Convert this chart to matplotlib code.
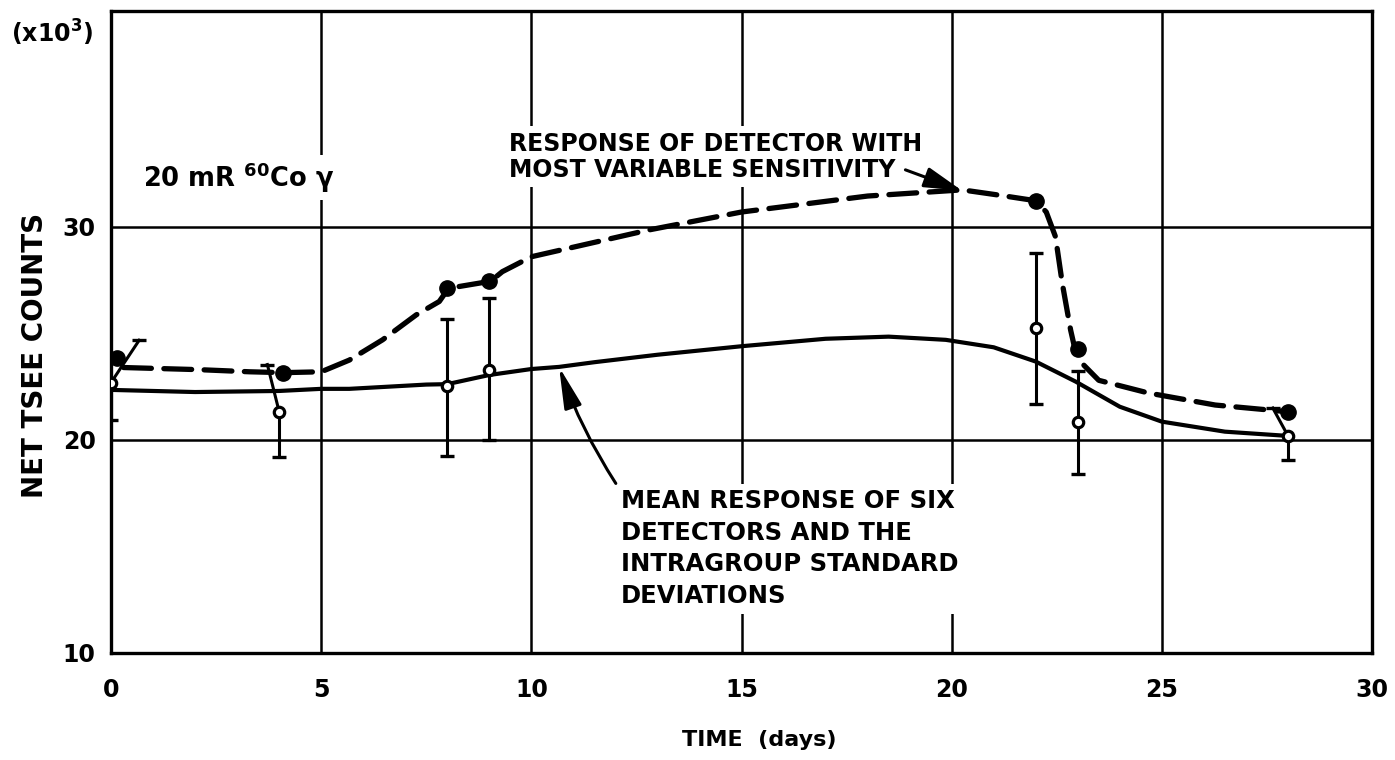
import matplotlib
matplotlib.use("Agg")
import matplotlib.pyplot as plt

plt.rcParams['font.family'] = ['DejaVu Sans']
plt.rcParams['font.weight'] = 'bold'
plt.rcParams['lines.scale_dashes'] = False

# ---- data ----
days = [0, 4, 8, 9, 22, 23, 28]
mean_counts = [22.69, 21.33, 22.55, 23.27, 25.24, 20.85, 20.20]
sd_low = [20.94, 19.20, 19.25, 20.00, 21.70, 18.40, 19.08]
sd_high = [24.68, 23.54, 25.70, 26.65, 28.77, 23.22, 21.50]
var_days = [0.15, 4.1, 8, 9, 22, 23, 28]
var_counts = [23.87, 23.16, 27.12, 27.45, 31.23, 24.29, 21.33]

# hand-drawn curves, traced
mean_curve_x = [0, 2, 4, 5, 5.67, 7.5, 8, 9, 10, 10.66, 11.5, 13, 15, 17, 18.5,
                19.86, 21, 22, 22.95, 24, 25, 26.5, 28]
mean_curve_y = [22.35, 22.25, 22.3, 22.4, 22.4, 22.6, 22.62, 23.05, 23.33, 23.43,
                23.65, 24.0, 24.4, 24.75, 24.85, 24.7, 24.35, 23.68, 22.74,
                21.56, 20.86, 20.39, 20.19]
var_curve_x = [0.3, 2.1, 3.3, 4.1, 5, 5.67, 6.46, 7.26, 7.81, 8.03, 9.03, 9.31,
               10, 12.8, 15, 18, 20.25, 21.1, 22, 22.25, 22.47, 22.63, 22.83,
               22.93, 23.1, 23.5, 24.69, 26.27, 27.97]
var_curve_y = [23.4, 23.3, 23.2, 23.16, 23.2, 23.75, 24.7, 25.87, 26.5, 27.12,
               27.45, 27.9, 28.6, 29.86, 30.7, 31.45, 31.74, 31.5, 31.23, 30.7,
               29.54, 27.37, 25.16, 24.29, 23.6, 22.8, 22.2, 21.64, 21.33]

x_ticks = [0, 5, 10, 15, 20, 25, 30]
y_ticks = [10, 20, 30]

# horizontal offsets (style) of the upper error bars drawn slanted
slant = [0.67, -0.28, 0, 0, 0, 0, -0.36]

fig = plt.figure(figsize=(13.95, 7.6), dpi=100)
ax = fig.add_axes([111 / 1395, 1 - 653 / 760, 1261 / 1395, 642.3 / 760])
ax.set_xlim(0, 30)
ax.set_ylim(10, 40.15)

# grid
for gx in x_ticks[1:-1]:
    ax.axvline(gx, color='black', lw=1.8, zorder=1)
for gy in y_ticks[1:]:
    ax.axhline(gy, color='black', lw=1.8, zorder=1)
for sp in ax.spines.values():
    sp.set_linewidth(2.4)

# curves
ax.plot(mean_curve_x, mean_curve_y, color='black', lw=3.0, zorder=3,
        solid_capstyle='round')
ax.plot(var_curve_x, var_curve_y, color='black', lw=3.8, zorder=3,
        dashes=(20, 9), dash_capstyle='round')

# error bars
for x, y, lo, hi, s in zip(days, mean_counts, sd_low, sd_high, slant):
    ax.plot([x, x], [y, lo], color='black', lw=2.2, zorder=4)
    ax.plot([x, x + s], [y, hi], color='black', lw=2.2, zorder=4)
    ax.plot([x, x + s], [lo, hi], linestyle='none', marker='_', ms=10,
            mew=2.4, color='black', zorder=4)

# points
ax.plot(var_days, var_counts, linestyle='none', marker='o', ms=11,
        color='black', zorder=5)
ax.plot(days, mean_counts, linestyle='none', marker='o', ms=7.5,
        mfc='white', mec='black', mew=2.3, zorder=6)

# ticks
ax.set_xticks(x_ticks)
ax.set_yticks(y_ticks)
ax.tick_params(length=0, labelsize=17)
ax.tick_params(axis='x', pad=18)
ax.tick_params(axis='y', pad=11)

ax.set_xlabel('TIME  (days)', fontsize=16, fontweight='bold', va='center')
ax.xaxis.set_label_coords(0.514, -0.1355)
ax.set_ylabel('NET TSEE COUNTS', fontsize=20, fontweight='bold', va='center')
ax.yaxis.set_label_coords(-0.0603, 0.464)

fig.text(52 / 1395, 1 - 33 / 760, '(x10$^{\\mathbf{3}}$)', fontsize=17,
         fontweight='bold', ha='center', va='center')

wb = dict(facecolor='white', edgecolor='none', pad=4)

ax.text(0.75, 31.89, '20 mR $^{\\mathbf{60}}$Co γ', fontsize=18.5,
        fontweight='bold', ha='left', va='baseline', bbox=wb, zorder=2)

ax.text(9.47, 32.36, 'RESPONSE OF DETECTOR WITH\nMOST VARIABLE SENSITIVITY',
        fontsize=17, fontweight='bold', ha='left', va='baseline',
        linespacing=1.1, bbox=wb, zorder=2)
ax.annotate('', xy=(20.25, 31.7), xytext=(18.9, 32.68),
            arrowprops=dict(arrowstyle='-|>,head_length=1.3,head_width=0.35',
                            color='black', lw=2.2, mutation_scale=18,
                            shrinkA=0, shrinkB=0), zorder=7)

ax.text(12.13, 12.35,
        'MEAN RESPONSE OF SIX\nDETECTORS AND THE\nINTRAGROUP STANDARD\nDEVIATIONS',
        fontsize=17.5, fontweight='bold', ha='left', va='baseline',
        linespacing=1.4, bbox=wb, zorder=2)
ax.annotate('', xy=(10.66, 23.43), xytext=(12.01, 17.96),
            arrowprops=dict(arrowstyle='-|>,head_length=1.4,head_width=0.3',
                            color='black', lw=2.2, mutation_scale=18,
                            connectionstyle='arc3,rad=-0.06',
                            shrinkA=0, shrinkB=0), zorder=7)

fig.savefig('out.png', dpi=100)
